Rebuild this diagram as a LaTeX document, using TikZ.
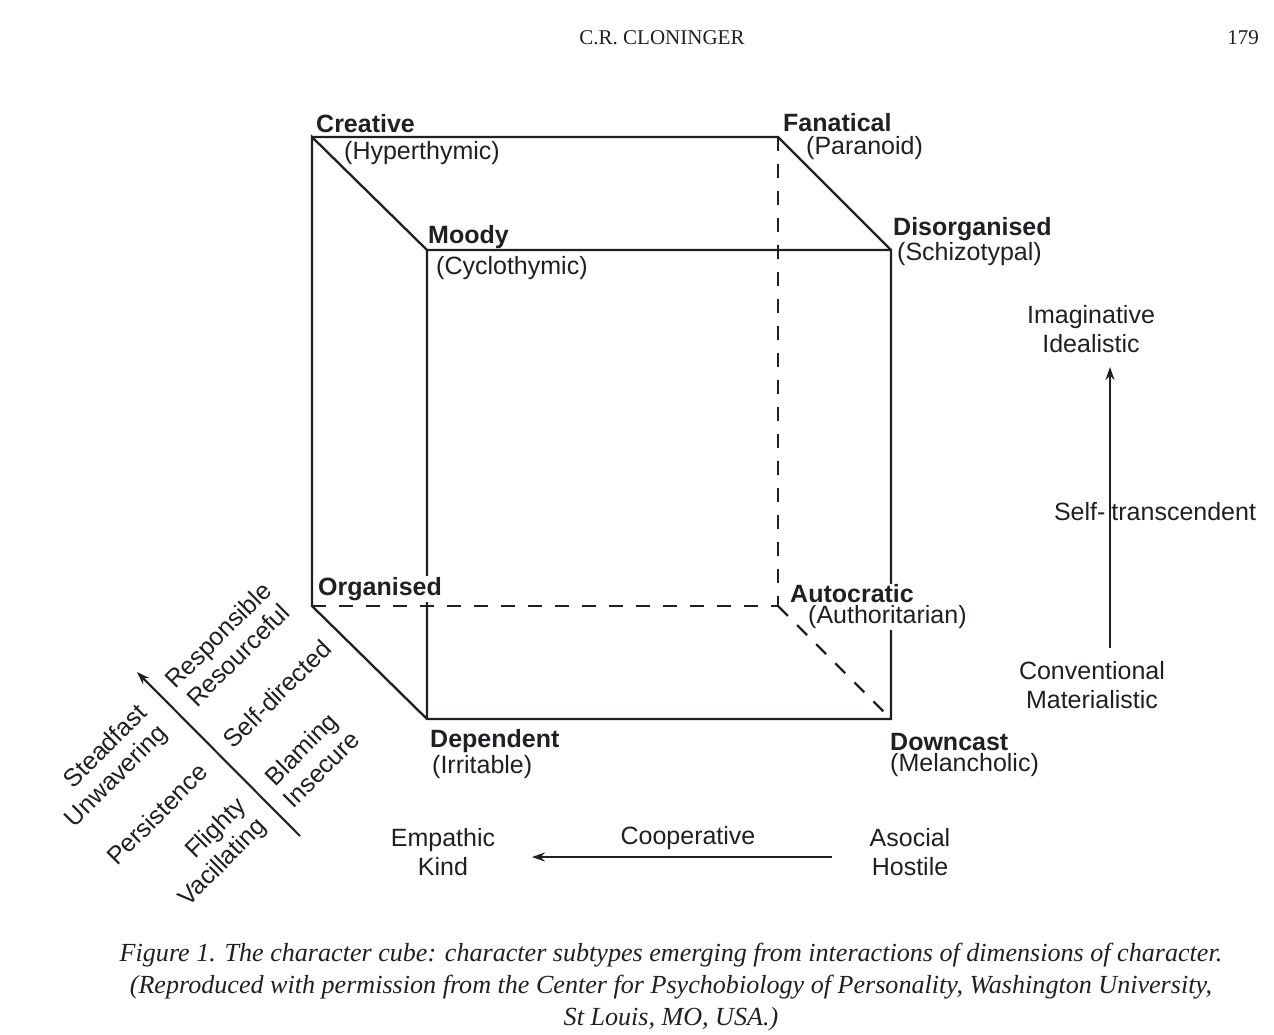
\documentclass[tikz,border=0pt]{standalone}
\usepackage{fontspec}
\setmainfont{Liberation Sans}
\newfontfamily\pageserif{Liberation Serif}
\usetikzlibrary{arrows.meta}
\definecolor{ink}{RGB}{30,32,36}
\begin{document}
\begin{tikzpicture}[x=1pt,y=-1pt,
  edge/.style={line width=2.3pt, draw=ink, line join=miter},
  hidden/.style={line width=2.3pt, draw=ink, dash pattern=on 14pt off 13pt},
  axis/.style={line width=2.1pt, draw=ink, -{Stealth[length=13pt,width=9pt]}},
  lbl/.style={font=\fontsize{25}{28.5}\selectfont, text=ink, inner sep=1pt},
  typename/.style={lbl, font=\fontsize{25}{28.5}\selectfont\bfseries, anchor=west},
  subname/.style={lbl, anchor=west},
  masked/.style={fill=white},
  pole/.style={lbl, align=center},
  slant/.style={lbl, rotate=45},
  serifline/.style={text=ink, inner sep=0pt},
]
\useasboundingbox (0,0) rectangle (1274,1034);
\fill[white] (0,0) rectangle (1274,1034);

% running head
\node[serifline, font=\pageserif\fontsize{21}{24}\selectfont] (head) at (662,38) {C.R. CLONINGER};
\node[serifline, font=\pageserif\fontsize{21}{24}\selectfont] (page) at (1243,38) {179};

% cube corners
\coordinate (cre) at (312,137);
\coordinate (fan) at (778,137);
\coordinate (moo) at (427,250);
\coordinate (dis) at (891,250);
\coordinate (org) at (312,606);
\coordinate (aut) at (778,606);
\coordinate (dep) at (427,719);
\coordinate (dow) at (891,719);

% hidden edges
\draw[hidden] (fan) -- (aut);
\draw[hidden] (org) -- (aut);
\draw[hidden, shorten >=10pt] (aut) -- (dow);

% visible edges
\draw[edge] (cre) -- (fan) -- (dis);
\draw[edge] (moo) -- (cre) -- (org) -- (dep) -- (dow) -- (dis) -- (moo) -- (dep);

% corner labels
\node[typename] (lcre) at (315,124) {Creative};
\node[subname]  (lcre2) at (343,153) {(Hyperthymic)};
\node[typename] (lfan) at (782,123) {Fanatical};
\node[subname]  (lfan2) at (805,148) {(Paranoid)};
\node[typename] (lmoo) at (427,237) {Moody};
\node[subname]  (lmoo2) at (435,268) {(Cyclothymic)};
\node[typename] (ldis) at (892,229) {Disorganised};
\node[subname]  (ldis2) at (896,254) {(Schizotypal)};
\node[typename, masked] (lorg) at (317,589) {Organised};
\node[typename, masked] (laut) at (789,594) {Autocratic};
\node[subname, masked]  (laut2) at (807,617) {(Authoritarian)};
\node[typename] (ldep) at (429,741) {Dependent};
\node[subname]  (ldep2) at (431,767) {(Irritable)};
\node[typename] (ldow) at (889,742) {Downcast};
\node[subname]  (ldow2) at (889,765) {(Melancholic)};

% self-transcendence axis
\node[pole] (ide) at (1091,329) {Imaginative\\Idealistic};
\node[pole] (mat) at (1092,685) {Conventional\\Materialistic};
\node[lbl] (st) at (1155,512) {Self-\kern6pt transcendent};
\coordinate (stLow) at (1110,648);
\coordinate (stHigh) at (1110,367);
\draw[axis] (stLow) -- (stHigh);

% cooperativeness axis
\node[pole] (emp) at (443,852) {Empathic\\Kind};
\node[pole] (aso) at (910,852) {Asocial\\Hostile};
\node[lbl] (coop) at (688,838) {Cooperative};
\coordinate (coRight) at (832,857);
\coordinate (coLeft) at (532,857);
\draw[axis] (coRight) -- (coLeft);

% self-directedness axis
\coordinate (sdLow) at (300,836);
\coordinate (sdHigh) at (137,672);
\draw[axis] (sdLow) -- (sdHigh);
\node[slant, align=center] (resp) at (228,645) {Responsible\\Resourceful};
\node[slant] (selfdir) at (277,694) {Self-directed};
\node[slant, align=center] (blam) at (311,759) {Blaming\\Insecure};
\node[slant, align=right] (stead) at (107,767) {Steadfast\\Unwavering};
\node[slant] (pers) at (157,814) {Persistence};
\node[slant, align=right] (fli) at (213,853) {Flighty\\Vacillating};

% caption
\node[serifline, font=\pageserif\itshape\fontsize{26.1}{32}\selectfont, align=center] (cap) at (671,987)
  {Figure 1. The character cube: character subtypes emerging from interactions of dimensions of character.\\
   (Reproduced with permission from the Center for Psychobiology of Personality, Washington University,\\
   St Louis, MO, USA.)};
\end{tikzpicture}
\end{document}
